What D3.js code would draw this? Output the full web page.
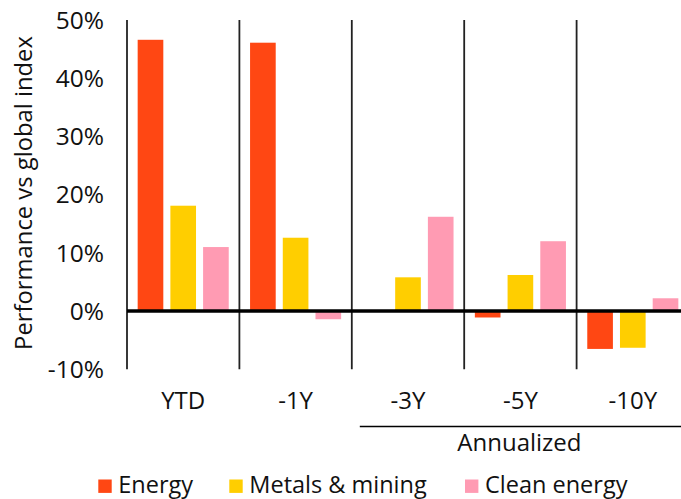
<!DOCTYPE html>
<html><head><meta charset="utf-8">
<script src="https://cdn.jsdelivr.net/npm/d3@7"></script>
<style>body{margin:0;background:#fff}svg{display:block}text{font-family:"Open Sans",sans-serif;fill:#111}</style>
</head><body>
<svg id="c" width="681" height="499"></svg>
<script>
const categories = ["YTD", "-1Y", "-3Y", "-5Y", "-10Y"];
const seriesNames = ["Energy", "Metals & mining", "Clean energy"];
const energy = [46.6, 46.1, 0, -1.1, -6.5];
const metals = [18.1, 12.6, 5.8, 6.2, -6.3];
const clean = [11.0, -1.4, 16.2, 12.0, 2.2];
const yTicks = [-10, 0, 10, 20, 30, 40, 50];
const colors = ["#FF4713", "#FFCE00", "#FF9BB3"];

const seriesVals = [energy, metals, clean];
const svg = d3.select("#c");
const y = d3.scaleLinear().domain([-10, 50]).range([369.3, 20]);
const x0 = d3.scaleBand().domain(categories).range([127, 127 + 5 * 112.4]).padding(0);
const x1 = d3.scaleBand().domain(seriesNames).range([0, x0.bandwidth()]).paddingInner(0.216).paddingOuter(0.326);

// separators
const seps = categories.map((c) => x0(c)).concat([x0.range()[1]]);
svg.selectAll("line.sep").data(seps).join("line")
  .attr("x1", d => d).attr("x2", d => d).attr("y1", y(50)).attr("y2", y(-10))
  .attr("stroke", "#222").attr("stroke-width", 1.8);

// bars
const g = svg.append("g");
categories.forEach((c, i) => {
  seriesNames.forEach((s, j) => {
    const v = seriesVals[j][i];
    if (v === 0) return;
    g.append("rect")
      .attr("x", x0(c) + x1(s)).attr("width", x1.bandwidth())
      .attr("y", y(Math.max(0, v))).attr("height", Math.abs(y(v) - y(0)))
      .attr("fill", colors[j]);
  });
});

// zero line
svg.append("line").attr("x1", 127).attr("x2", 681).attr("y1", y(0)).attr("y2", y(0))
  .attr("stroke", "#000").attr("stroke-width", 3.5);

// y axis labels
svg.selectAll("text.yt").data(yTicks).join("text")
  .attr("x", 104).attr("y", d => y(d)).attr("dy", "0.36em")
  .attr("text-anchor", "end").attr("font-size", 24.5)
  .text(d => d + "%");

// y title
svg.append("text").attr("transform", "translate(31.5,193) rotate(-90)")
  .attr("text-anchor", "middle").attr("font-size", 23.8)
  .text("Performance vs global index");

// category labels
svg.selectAll("text.cat").data(categories).join("text")
  .attr("x", d => x0(d) + x0.bandwidth() / 2).attr("y", 409)
  .attr("text-anchor", "middle").attr("font-size", 24)
  .text(d => d);

// annualized
svg.append("line").attr("x1", x0("-3Y") + 8).attr("x2", 681).attr("y1", 426.5).attr("y2", 426.5)
  .attr("stroke", "#000").attr("stroke-width", 1.5);
svg.append("text").attr("x", x0("-5Y") + x0.bandwidth() / 2 - 1).attr("y", 451)
  .attr("text-anchor", "middle").attr("font-size", 24).text("Annualized");

// legend
const legX = [98.3, 229.3, 465];
seriesNames.forEach((s, j) => {
  svg.append("rect").attr("x", legX[j]).attr("y", 479.5).attr("width", 13.4).attr("height", 13.4).attr("fill", colors[j]);
  svg.append("text").attr("x", legX[j] + 20).attr("y", 492.5)
    .attr("font-size", 23.5).text(s);
});
</script>
</body></html>
